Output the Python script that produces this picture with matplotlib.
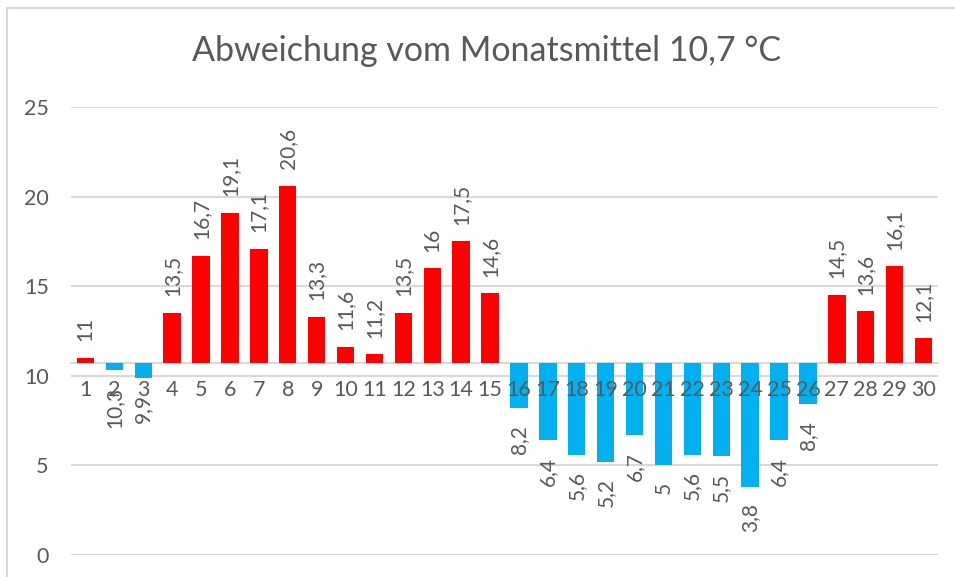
import matplotlib
matplotlib.use("Agg")
import matplotlib.pyplot as plt
from matplotlib.lines import Line2D

days = list(range(1, 31))
values = [11, 10.3, 9.9, 13.5, 16.7, 19.1, 17.1, 20.6, 13.3, 11.6,
          11.2, 13.5, 16, 17.5, 14.6, 8.2, 6.4, 5.6, 5.2, 6.7,
          5, 5.6, 5.5, 3.8, 6.4, 8.4, 14.5, 13.6, 16.1, 12.1]
baseline = 10.7
title = "Abweichung vom Monatsmittel 10,7 °C"
yticks = [0, 5, 10, 15, 20, 25]

RED = "#FF0000"
BLUE = "#00B0F0"
GRID = "#D9D9D9"
TXT = "#595959"

plt.rcParams['font.family'] = ['Lato', 'DejaVu Sans']

fig = plt.figure(figsize=(9.55, 5.77), dpi=100)
ax = fig.add_axes([71/955, 1-555/577, (938-71)/955, (555-107)/577])

heights = [v - baseline for v in values]
colors = [RED if v > baseline else BLUE for v in values]
ax.bar(days, heights, bottom=baseline, width=0.6, color=colors, zorder=2)

def fmt(v):
    s = ("%g" % v)
    return s.replace(".", ",")

for d, v in zip(days, values):
    if v > baseline:
        ax.annotate(fmt(v), (d, v), xytext=(0, 12), textcoords="offset points",
                    rotation=90, ha="center", va="bottom", fontsize=15, color=TXT, zorder=4)
    else:
        ax.annotate(fmt(v), (d, v), xytext=(0, -12), textcoords="offset points",
                    rotation=90, ha="center", va="top", fontsize=15, color=TXT, zorder=4)

ax.set_xlim(0.5, 30.5)
ax.set_ylim(0, 25)
ax.set_yticks(yticks)
ax.set_yticklabels([str(t) for t in yticks], fontsize=15.5, color=TXT)
ax.yaxis.grid(True, color=GRID, linewidth=1.5)
ax.yaxis.set_zorder(0.5)
ax.xaxis.set_zorder(5)
ax.tick_params(axis='y', length=0, pad=16)
ax.tick_params(axis='x', length=0, pad=12, labelsize=15.5, labelcolor=TXT)
ax.set_xticks(days)
ax.set_xticklabels([str(d) for d in days])
for s in ['left', 'right', 'top']:
    ax.spines[s].set_visible(False)
ax.spines['bottom'].set_position(('data', baseline))
ax.spines['bottom'].set_color(GRID)
ax.spines['bottom'].set_linewidth(1.5)
ax.spines['bottom'].set_zorder(1)

fig.text(487/955, 1-51/577, title, ha="center", va="center", fontsize=24.5, color=TXT)

fig.add_artist(Line2D([7/955, 1], [1-8/577, 1-8/577], color=GRID, linewidth=1.5, transform=fig.transFigure))
fig.add_artist(Line2D([7/955, 7/955], [0, 1-8/577], color=GRID, linewidth=1.5, transform=fig.transFigure))

fig.savefig("out.png", dpi=100)
